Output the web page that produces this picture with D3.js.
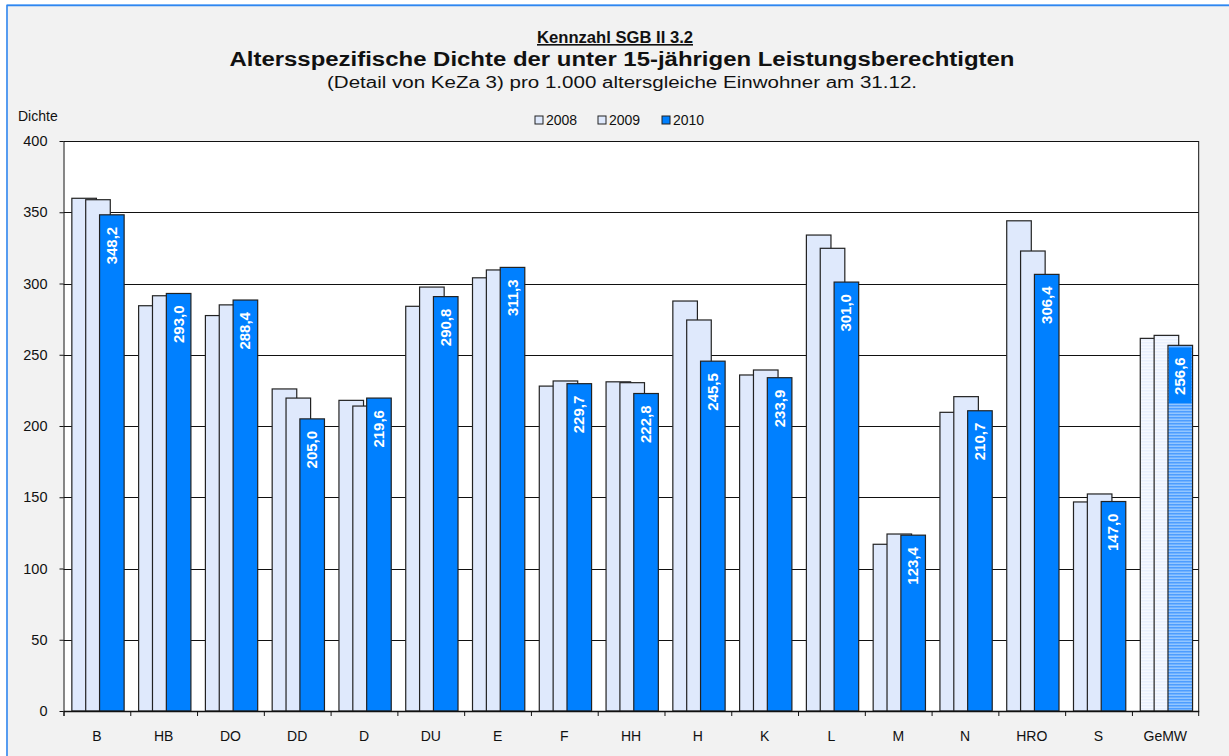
<!DOCTYPE html>
<html lang="de">
<head>
<meta charset="UTF-8">
<title>Kennzahl SGB II 3.2</title>
<style>
  body { margin: 0; padding: 0; background: #fff; font-family: "Liberation Sans", Arial, sans-serif; }
  svg text { font-family: "Liberation Sans", Arial, sans-serif; }
</style>
</head>
<body>
<svg id="chart"></svg>
<script src="https://d3js.org/d3.v7.min.js"></script>
<script>
// data
var categories = ["B", "HB", "DO", "DD", "D", "DU", "E", "F", "HH", "H", "K", "L", "M", "N", "HRO", "S", "GeMW"];
var years = ["2008", "2009", "2010"];
var values2008 = [359.8, 284.4, 277.5, 226.0, 218.0, 284.0, 304.0, 228.0, 231.0, 287.7, 235.8, 334.0, 117.0, 209.6, 344.0, 146.7, 261.5];
var values2009 = [358.8, 291.4, 285.0, 219.6, 214.0, 297.5, 309.5, 231.6, 230.4, 274.4, 239.3, 324.7, 124.2, 220.6, 322.8, 152.3, 263.6];
var values2010 = [348.2, 293.0, 288.4, 205.0, 219.6, 290.8, 311.3, 229.7, 222.8, 245.5, 233.9, 301.0, 123.4, 210.7, 306.4, 147.0, 256.6];
var yTicks = [0, 50, 100, 150, 200, 250, 300, 350, 400];

var W = 1229, H = 756;
var margin = { top: 141, right: 30, bottom: 45, left: 63.5 };
var width = 1198.7 - margin.left;
var height = 711 - margin.top;

var svg = d3.select("#chart").attr("width", W).attr("height", H);

var defs = svg.append("defs");
var p1 = defs.append("pattern").attr("id", "stripeBlue")
    .attr("patternUnits", "userSpaceOnUse").attr("width", 8).attr("height", 3);
p1.append("rect").attr("width", 8).attr("height", 3).attr("fill", "#93c6ff");
p1.append("rect").attr("width", 8).attr("height", 1.5).attr("fill", "#4d9dff");
var p2 = defs.append("pattern").attr("id", "stripePale")
    .attr("patternUnits", "userSpaceOnUse").attr("width", 8).attr("height", 3);
p2.append("rect").attr("width", 8).attr("height", 3).attr("fill", "#f6f9ff");
p2.append("rect").attr("width", 8).attr("height", 1.5).attr("fill", "#e9f0fd");

// background and frame
svg.append("rect").attr("width", W).attr("height", H).attr("fill", "#f2f2f2");
svg.append("rect").attr("x", 0).attr("y", 0).attr("width", W).attr("height", 4).attr("fill", "#fff");
svg.append("rect").attr("x", 0).attr("y", 0).attr("width", 6).attr("height", H).attr("fill", "#fff");
svg.append("line").attr("x1", 6.5).attr("x2", W).attr("y1", 4.5).attr("y2", 4.5)
    .attr("stroke", "#8fc1fb").attr("stroke-width", 1);
svg.append("line").attr("x1", 7).attr("x2", W).attr("y1", 5.5).attr("y2", 5.5)
    .attr("stroke", "#2f86ef").attr("stroke-width", 1.3);
svg.append("line").attr("x1", 7).attr("x2", 7).attr("y1", 5).attr("y2", H)
    .attr("stroke", "#2f86ef").attr("stroke-width", 1.6);

// titles
function fitText(sel, len) {
    sel.attr("textLength", len).attr("lengthAdjust", "spacingAndGlyphs");
}
var t1 = svg.append("text").attr("x", 615).attr("y", 43).attr("text-anchor", "middle")
    .attr("font-size", 16).attr("font-weight", "bold").attr("fill", "#111")
    .attr("text-decoration", "underline").text("Kennzahl SGB II 3.2");
fitText(t1, 156);
var t2 = svg.append("text").attr("x", 622).attr("y", 66).attr("text-anchor", "middle")
    .attr("font-size", 20).attr("font-weight", "bold").attr("fill", "#111")
    .text("Altersspezifische Dichte der unter 15-jährigen Leistungsberechtigten");
fitText(t2, 785);
var t3 = svg.append("text").attr("x", 622).attr("y", 88).attr("text-anchor", "middle")
    .attr("font-size", 16).attr("fill", "#111")
    .text("(Detail von KeZa 3) pro 1.000 altersgleiche Einwohner am 31.12.");
fitText(t3, 590);

svg.append("text").attr("x", 18).attr("y", 121).attr("font-size", 14).attr("fill", "#111")
    .text("Dichte");

// legend
var legendX = [535, 598, 662];
var legendFill = ["#dfe9fc", "#dfe9fc", "#0080ff"];
var lg = svg.append("g").selectAll("g").data(years).enter().append("g")
    .attr("transform", function (d, i) { return "translate(" + legendX[i] + ",116)"; });
lg.append("rect").attr("width", 8).attr("height", 8).attr("fill", function (d, i) { return legendFill[i]; })
    .attr("stroke", "#222").attr("stroke-width", 1);
lg.append("text").attr("x", 11).attr("y", 9).attr("font-size", 14).attr("fill", "#111")
    .text(function (d) { return d; });

var g = svg.append("g").attr("transform", "translate(" + margin.left + "," + margin.top + ")");

var x = d3.scaleBand().domain(categories).range([0, width]).padding(0);
var y = d3.scaleLinear().domain([0, 400]).range([height, 0]);
var bw = x.bandwidth();
var sub = d3.scaleLinear().domain([0, 2]).range([bw * 0.125, bw * 0.54]);
var barW = bw * 0.368;

// plot area
g.append("rect").attr("width", width).attr("height", height).attr("fill", "#fff");
g.append("g").selectAll("line").data(yTicks.slice(1)).enter().append("line")
    .attr("x1", 0).attr("x2", width)
    .attr("y1", function (d) { return Math.round(y(d)) + 0.5; })
    .attr("y2", function (d) { return Math.round(y(d)) + 0.5; })
    .attr("stroke", "#111").attr("stroke-width", 1);
g.append("line").attr("x1", width).attr("x2", width).attr("y1", 0).attr("y2", height + 5)
    .attr("stroke", "#111");

// bars
var series = [values2008, values2009, values2010];
var fills = ["#dfe9fc", "#dfe9fc", "#0080ff"];
var last = categories.length - 1;
series.forEach(function (vals, s) {
    g.append("g").selectAll("rect").data(vals).enter().append("rect")
        .attr("x", function (d, i) { return x(categories[i]) + sub(s); })
        .attr("y", function (d) { return y(d); })
        .attr("width", barW)
        .attr("height", function (d) { return height - y(d); })
        .attr("fill", function (d, i) {
            if (i === last) return s === 2 ? "url(#stripeBlue)" : "url(#stripePale)";
            return fills[s];
        })
        .attr("stroke", "#222").attr("stroke-width", 1.2);
});

// label box on GeMW 2010
g.append("rect")
    .attr("x", x(categories[last]) + sub(2) + 1)
    .attr("y", y(values2010[last]) + 2)
    .attr("width", barW - 2)
    .attr("height", 56)
    .attr("fill", "#0080ff");

// data labels 2010
g.append("g").selectAll("text").data(values2010).enter().append("text")
    .attr("transform", function (d, i) {
        var cx = x(categories[i]) + sub(2) + barW / 2 + 5;
        return "translate(" + cx + "," + (y(d) + 12) + ") rotate(-90)";
    })
    .attr("text-anchor", "end")
    .attr("font-size", 15).attr("font-weight", "bold").attr("fill", "#fff")
    .text(function (d) { return d.toFixed(1).replace(".", ","); });

// axes
var yAxis = g.append("g").call(d3.axisLeft(y).tickValues(yTicks).tickSize(4).tickPadding(12));
yAxis.select(".domain").attr("stroke", "#111").attr("d", "M0.5," + (height + 5) + "V0");
yAxis.selectAll(".tick line").attr("stroke", "#111");
yAxis.selectAll(".tick text").attr("font-size", 14.5).attr("fill", "#111")
    .attr("font-family", "'Liberation Sans', Arial, sans-serif");

var xAxis = g.append("g").attr("transform", "translate(0," + height + ")")
    .call(d3.axisBottom(x).tickSize(0).tickPadding(20));
xAxis.select(".domain").attr("stroke", "#111").attr("stroke-width", 1.3);
xAxis.selectAll(".tick text").attr("font-size", 14).attr("fill", "#111")
    .attr("font-family", "'Liberation Sans', Arial, sans-serif");
g.append("g").selectAll("line").data(categories).enter().append("line")
    .attr("x1", function (d) { return x(d) + 0.5; }).attr("x2", function (d) { return x(d) + 0.5; })
    .attr("y1", height).attr("y2", height + 5).attr("stroke", "#111");
</script>
</body>
</html>
